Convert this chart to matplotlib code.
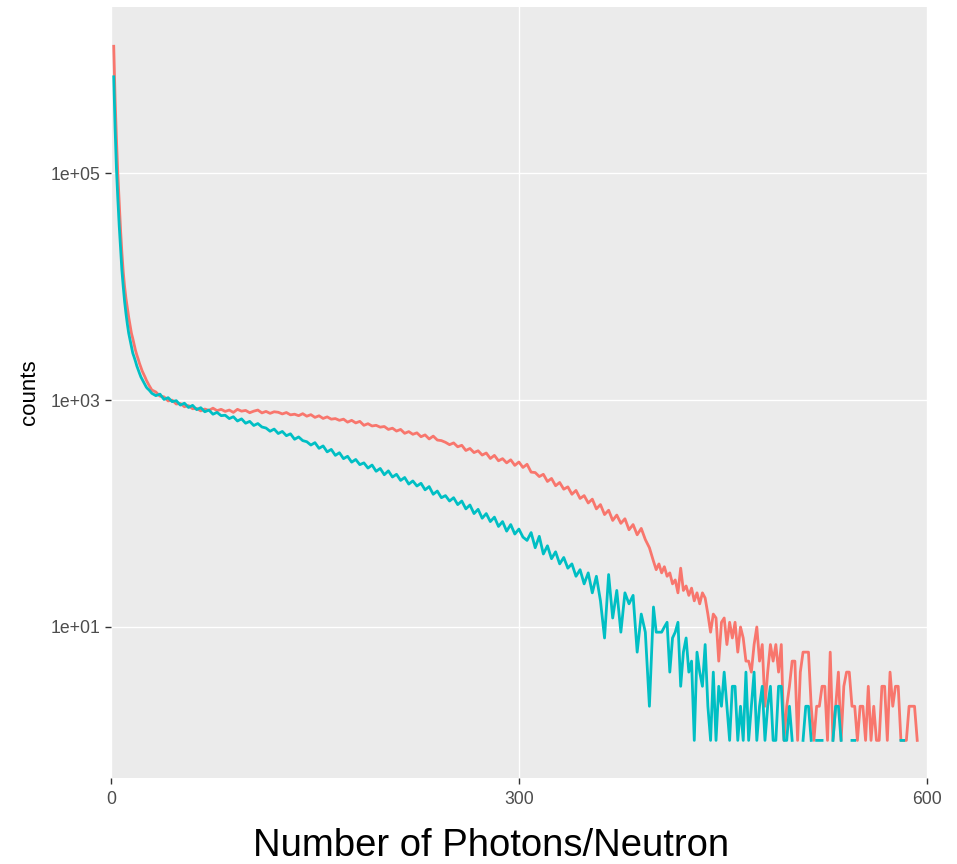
import numpy as np
import matplotlib
matplotlib.use("Agg")
import matplotlib.pyplot as plt

plt.rcParams['font.family'] = ['Liberation Sans', 'DejaVu Sans']

# photon bins (x) for the three parts of each spectrum
photons_head = np.arange(2, 31)
photons_body = np.arange(33, 400, 3)
photons_tail_red = np.arange(401, 594, 2)
photons_tail_teal = np.arange(401, 584, 2)

# red series counts
red_head = [1320000, 450000, 200000, 100000, 56000, 32000, 20000, 13500, 10000, 7900,
            6500, 5400, 4600, 3900, 3500, 3100, 2750, 2500, 2300, 2100,
            1950, 1800, 1700, 1600, 1500, 1420, 1350, 1290, 1230]
red_body = [1180, 1085, 1070, 985, 1000, 925, 935, 875, 895, 840,
            845, 805, 835, 812, 850, 808, 830, 796, 818, 780,
            830, 800, 812, 775, 800, 818, 772, 796, 765, 790,
            782, 756, 778, 742, 752, 730, 760, 722, 745, 705,
            728, 690, 712, 680, 688, 664, 680, 640, 664, 630,
            650, 600, 620, 592, 600, 578, 586, 552, 566, 534,
            552, 510, 528, 500, 515, 476, 494, 455, 482, 445,
            440, 425, 405, 420, 388, 400, 360, 375, 345, 358,
            328, 342, 306, 326, 292, 305, 280, 298, 266, 285,
            255, 272, 232, 230, 212, 222, 192, 204, 176, 188,
            164, 172, 148, 160, 136, 144, 124, 134, 110, 120,
            98, 107, 87, 97, 82, 90, 72, 80, 65, 74,
            59, 50, 38]
red_tail = [32, 36, 30, 34, 28, 30, 24, 26, 20, 33,
            21, 23, 19, 22, 17, 20, 16, 20, 18, 13,
            9, 13, 12, 5, 11, 12, 7, 11, 8, 11,
            6, 10, 8, 5, 5, 4, 7, 10, 5, 7,
            2, 4, 7, 5, 7, 4, 7, 1, 2, 3,
            5, 5, 1, 4, 6, 6, 6, 2, 1, 2,
            2, 3, 3, 1, 6, 1, 2, 4, 1, 3,
            4, 4, 2, 2, 1, 2, 2, 1, 3, 1,
            2, 1, 1, 3, 3, 1, 4, 2, 3, 3,
            1, 1, 1, 2, 2, 2, 1]

# teal series counts (nan = empty bin, line breaks there)
nan = np.nan
teal_head = [710000, 250000, 110000, 60000, 35000, 22000, 14000, 10000, 7400, 5800,
             4700, 3900, 3400, 2950, 2600, 2400, 2200, 2000, 1850, 1720,
             1600, 1520, 1450, 1370, 1300, 1260, 1230, 1190, 1150]
teal_body = [1096, 1130, 1015, 1052, 970, 990, 905, 940, 862, 900,
             825, 858, 790, 818, 752, 780, 730, 736, 688, 714,
             655, 684, 626, 650, 598, 622, 580, 568, 532, 556,
             508, 530, 486, 505, 452, 474, 440, 430, 402, 422,
             376, 395, 350, 368, 326, 344, 305, 320, 284, 300,
             270, 280, 252, 268, 236, 250, 220, 238, 210, 222,
             196, 208, 182, 194, 175, 185, 162, 173, 148, 158,
             138, 144, 129, 138, 120, 129, 110, 119, 100, 109,
             91, 100, 85, 93, 77, 85, 70, 80, 66, 73,
             62, 58, 68, 50, 63, 44, 52, 40, 46, 36,
             41, 33, 36, 28, 32, 24, 30, 20, 28, 17,
             8, 29, 12, 21, 9, 20, 16, 19, 6, 13,
             9, 2, 15]
teal_tail = [9, 9, 9, 10, 11, 4, 8, 9, 11, 3,
             6, 8, 4, 5, 1, 6, 4, 3, 7, 2,
             1, 4, 1, 3, 2, 4, 2, 1, 3, 3,
             1, 2, 1, 4, 1, 2, 4, 1, 2, 3,
             1, 2, 3, 1, 1, 3, 3, 1, 1, 2,
             1, nan, 1, nan, 1, 2, 2, 1, nan, 1,
             1, 1, nan, nan, nan, 1, 2, 2, 1, nan,
             nan, nan, 1, 1, nan, nan, nan, nan, nan, nan,
             nan, nan, nan, nan, nan, nan, nan, nan, nan, nan,
             1, 1]

red_x = np.concatenate([photons_head, photons_body, photons_tail_red])
red_y = np.array(red_head + red_body + red_tail, dtype=float)
teal_x = np.concatenate([photons_head, photons_body, photons_tail_teal])
teal_y = np.array(teal_head + teal_body + teal_tail, dtype=float)

fig = plt.figure(figsize=(9.57, 8.64), dpi=100)
ax = fig.add_axes([0.116, 0.0999, 0.8524, 0.8924])
ax.set_facecolor('#EBEBEB')

ax.plot(red_x, red_y, color='#F8766D', lw=2.0)
ax.plot(teal_x, teal_y, color='#00BFC4', lw=2.0)

ax.set_yscale('log')
ax.set_xlim(0, 600)
ax.set_ylim(0.469, 2.95e6)
ax.set_xticks([0, 300, 600])
ax.set_xticklabels(['0', '300', '600'])
ax.set_yticks([1e1, 1e3, 1e5])
ax.set_yticklabels(['1e+01', '1e+03', '1e+05'])
ax.yaxis.set_minor_locator(matplotlib.ticker.NullLocator())

ax.grid(True, color='white', lw=1.0)
ax.set_axisbelow(True)
for s in ax.spines.values():
    s.set_visible(False)
ax.tick_params(axis='both', colors='#333333', length=4.5, width=1.0,
               labelsize=12.7, labelcolor='#4D4D4D')
ax.tick_params(axis='y', pad=3.4)
ax.tick_params(axis='x', pad=5.0)

fig.text(30 / 957, 1 - 392 / 864, 'counts', rotation=90, fontsize=16,
         ha='center', va='center', color='black')
fig.text(491 / 957, 8 / 864, 'Number of Photons/Neutron', fontsize=27.5,
         ha='center', va='baseline', color='black')

fig.savefig('out.png', dpi=100)
